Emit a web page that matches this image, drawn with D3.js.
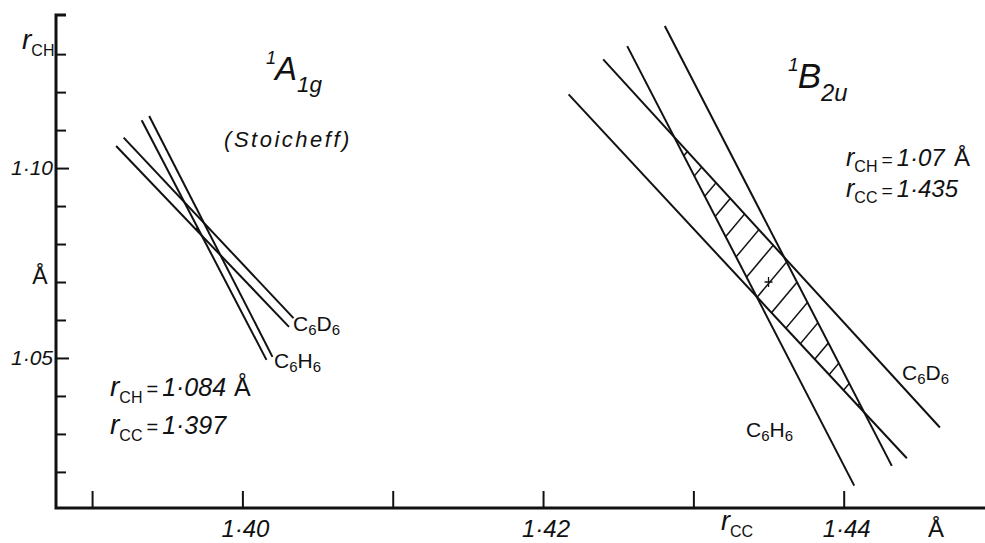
<!DOCTYPE html>
<html>
<head>
<meta charset="utf-8">
<script src="https://cdn.jsdelivr.net/npm/d3@7"></script>
<style>
  body { margin: 0; background: #fff; }
  svg text { font-family: "Liberation Sans", Arial, sans-serif; fill: #111; }
  .it { font-style: italic; }
</style>
</head>
<body>
<svg id="chart" width="985" height="543"></svg>
<script>
// ---- axis extents and ticks (Å) ----
const rccExtent = [1.3876, 1.4494];
const rchExtent = [1.0105, 1.1403];
const rccTicks = [1.39, 1.40, 1.41, 1.42, 1.43, 1.44];
const rccLabelled = [1.40, 1.42, 1.44];
const rccLabelText = ["1·40", "1·42", "1·44"];
const rchTicks = [1.02, 1.03, 1.04, 1.05, 1.06, 1.07, 1.08, 1.09, 1.10, 1.11, 1.12, 1.13];
const rchLabelled = [1.05, 1.10];
const rchLabelText = ["1·05", "1·10"];

// ---- rotational-constant loci, each line as [[rCC, rCH], [rCC, rCH]] ----
// 1A1g ground state
const a1gC6D6 = [
  [[1.3916, 1.1058], [1.4031, 1.0582]],
  [[1.3921, 1.1080], [1.4034, 1.0605]]
];
const a1gC6H6 = [
  [[1.3933, 1.1126], [1.4016, 1.0495]],
  [[1.3938, 1.1137], [1.4020, 1.0503]]
];
// 1B2u excited state
const b2uC6D6 = [
  [[1.4217, 1.1194], [1.4442, 1.0236]],
  [[1.4240, 1.1286], [1.4464, 1.0317]]
];
const b2uC6H6 = [
  [[1.4256, 1.1321], [1.4407, 1.0164]],
  [[1.4281, 1.1374], [1.4432, 1.0216]]
];
// best-fit structures [rCC, rCH]
const a1gResult = [1.397, 1.084];
const b2uResult = [1.435, 1.07];

const svg = d3.select("#chart");
const x = d3.scaleLinear().domain(rccExtent).range([56, 985]);
const y = d3.scaleLinear().domain(rchExtent).range([508, 15]);

// ---- axes ----
const xAxis = d3.axisBottom(x).tickValues(rccTicks).tickSizeInner(-17).tickSizeOuter(0).tickFormat("");
const gx = svg.append("g").attr("transform", `translate(0,${y(rchExtent[0])})`).call(xAxis);
gx.select(".domain").remove();
gx.selectAll(".tick line").attr("stroke", "#111").attr("stroke-width", 2);

const yAxis = d3.axisLeft(y).tickValues(rchTicks).tickSizeOuter(0).tickFormat("")
  .tickSizeInner(-10);
const gy = svg.append("g").attr("transform", `translate(${x(rccExtent[0])},0)`).call(yAxis);
gy.select(".domain").remove();
gy.selectAll(".tick line")
  .attr("stroke", "#111").attr("stroke-width", 2)
  .attr("x2", d => rchLabelled.includes(d) ? 13 : 10);

// axis frame lines (heavier than the ticks)
svg.append("path")
  .attr("d", `M${x(rccExtent[0]) + 10},${y(rchExtent[1])}H${x(rccExtent[0])}V${y(rchExtent[0])}H${x(rccExtent[1])}`)
  .attr("fill", "none").attr("stroke", "#111").attr("stroke-width", 3);

// tick labels
svg.selectAll(".xlab").data(rccLabelled).join("text")
  .attr("class", "it")
  .attr("x", d => x(d) + 3).attr("y", 537)
  .attr("text-anchor", "middle").attr("font-size", 24)
  .text((d, i) => rccLabelText[i]);
svg.selectAll(".ylab").data(rchLabelled).join("text")
  .attr("class", "it")
  .attr("x", 53).attr("y", d => y(d) + 7)
  .attr("text-anchor", "end").attr("font-size", 21)
  .text((d, i) => rchLabelText[i]);

// "r" with an upright subscript
function rLabel(g, px, py, sub, size, subSize) {
  const t = g.append("text").attr("x", px).attr("y", py);
  t.append("tspan").attr("class", "it").attr("font-size", size).text("r");
  t.append("tspan").attr("font-size", subSize).attr("dy", size * 0.25).attr("dx", 0).text(sub);
  return t;
}
rLabel(svg, 22, 49, "CH", 28, 16);
svg.append("text").attr("x", 40).attr("y", 284).attr("text-anchor", "middle")
  .attr("font-size", 23).text("Å");
rLabel(svg, 721, 530, "CC", 27, 16);
svg.append("text").attr("x", 936).attr("y", 537).attr("text-anchor", "middle")
  .attr("font-size", 24).text("Å");

// ---- locus lines ----
const seg = d3.line().x(d => x(d[0])).y(d => y(d[1]));
const allLines = [...a1gC6D6, ...a1gC6H6, ...b2uC6D6, ...b2uC6H6];
svg.append("g").selectAll("path").data(allLines).join("path")
  .attr("d", seg).attr("fill", "none").attr("stroke", "#111").attr("stroke-width", 2);

// ---- hatched overlap region of the 1B2u bands ----
function meet(l1, l2) {
  const [[x1, y1], [x2, y2]] = l1.map(p => [x(p[0]), y(p[1])]);
  const [[x3, y3], [x4, y4]] = l2.map(p => [x(p[0]), y(p[1])]);
  const den = (x1 - x2) * (y3 - y4) - (y1 - y2) * (x3 - x4);
  const t = ((x1 - x3) * (y3 - y4) - (y1 - y3) * (x3 - x4)) / den;
  return [x1 + t * (x2 - x1), y1 + t * (y2 - y1)];
}
const quad = [
  meet(b2uC6D6[1], b2uC6H6[0]),
  meet(b2uC6D6[1], b2uC6H6[1]),
  meet(b2uC6D6[0], b2uC6H6[1]),
  meet(b2uC6D6[0], b2uC6H6[0])
];
svg.append("defs").append("clipPath").attr("id", "overlap")
  .append("polygon").attr("points", quad.map(p => p.join(",")).join(" "));

// parallel hatch strokes through the region, centred on its middle
const ang = 50 * Math.PI / 180;
const dir = [Math.cos(ang), -Math.sin(ang)];
const nrm = [Math.sin(ang), Math.cos(ang)];
const cx = d3.mean(quad, p => p[0]), cy = d3.mean(quad, p => p[1]);
const proj = quad.map(p => (p[0] - cx) * nrm[0] + (p[1] - cy) * nrm[1]);
const spacing = 21;
const hatchK = d3.range(Math.ceil(d3.min(proj) / spacing) * spacing + 4, d3.max(proj), spacing);
svg.append("g").attr("clip-path", "url(#overlap)")
  .selectAll("line").data(hatchK).join("line")
  .attr("x1", k => cx + k * nrm[0] - 300 * dir[0]).attr("y1", k => cy + k * nrm[1] - 300 * dir[1])
  .attr("x2", k => cx + k * nrm[0] + 300 * dir[0]).attr("y2", k => cy + k * nrm[1] + 300 * dir[1])
  .attr("stroke", "#111").attr("stroke-width", 1.5);

// result markers
svg.append("circle").attr("cx", x(a1gResult[0])).attr("cy", y(a1gResult[1]))
  .attr("r", 1.5).attr("fill", "#111");
svg.append("path")
  .attr("d", `M${x(b2uResult[0]) - 4},${y(b2uResult[1])}h8M${x(b2uResult[0])},${y(b2uResult[1]) - 5}v10`)
  .attr("stroke", "#111").attr("stroke-width", 1.3);

// ---- molecule labels ----
function molLabel(px, py, isotope) {
  const t = svg.append("text").attr("x", px).attr("y", py).attr("font-size", 21);
  t.append("tspan").text("C");
  t.append("tspan").attr("font-size", 15).attr("dy", 4).text("6");
  t.append("tspan").attr("dy", -4).text(isotope);
  t.append("tspan").attr("font-size", 15).attr("dy", 4).text("6");
}
molLabel(293, 331, "D");
molLabel(274, 368, "H");
molLabel(902, 380, "D");
molLabel(746, 437, "H");

// ---- state titles ----
function stateTitle(px, py, main, sub, size) {
  const t = svg.append("text").attr("class", "it").attr("x", px).attr("y", py);
  t.append("tspan").attr("font-size", size * 0.55).attr("dy", -size * 0.5).text("1");
  t.append("tspan").attr("font-size", size).attr("dy", size * 0.5).attr("dx", -1).text(main);
  t.append("tspan").attr("font-size", size * 0.68).attr("dy", size * 0.36).text(sub);
}
stateTitle(266, 80, "A", "1g", 33);
stateTitle(788, 88, "B", "2u", 35);

svg.append("text").attr("class", "it").attr("x", 288).attr("y", 147)
  .attr("text-anchor", "middle").attr("font-size", 22).attr("letter-spacing", 2.5)
  .text("(Stoicheff)");

// ---- fitted-structure annotations ----
function result(px, py, sub, value, size, rSize, withUnit, unitX) {
  const t = rLabel(svg, px, py, sub, rSize, 16);
  t.append("tspan").attr("dy", -rSize * 0.25).attr("font-size", size * 0.8).attr("dx", 4).text("=");
  t.append("tspan").attr("class", "it").attr("font-size", size).attr("dx", 4).text(value);
  if (withUnit) svg.append("text").attr("x", unitX).attr("y", py).attr("font-size", size).text("Å");
}
result(110, 396, "CH", "1·084", 25, 28, true, 234);
result(110, 434, "CC", "1·397", 25, 28, false);
result(846, 166, "CH", "1·07", 24, 25, true, 954);
result(846, 197, "CC", "1·435", 24, 25, false);
</script>
</body>
</html>
